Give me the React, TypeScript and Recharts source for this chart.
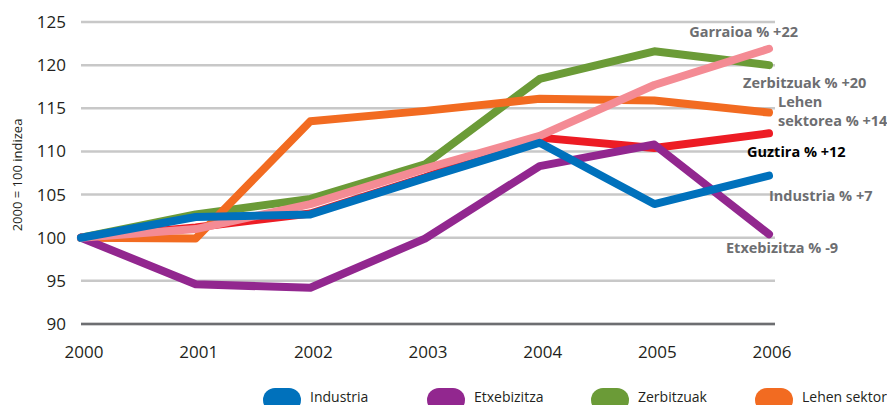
import { LineChart, Line, XAxis, YAxis, CartesianGrid } from 'recharts';

const years = [2000, 2001, 2002, 2003, 2004, 2005, 2006];
const yTicks = [90, 95, 100, 105, 110, 115, 120, 125];

const industria = [100, 102.4, 102.7, 106.9, 111, 103.9, 107.2];
const etxebizitza = [100, 94.6, 94.2, 99.9, 108.3, 110.8, 100.4];
const zerbitzuak = [100, 102.7, 104.5, 108.5, 118.4, 121.6, 120];
const lehenSektorea = [100, 99.9, 113.5, 114.7, 116.1, 115.9, 114.5];
const guztira = [100, 101.2, 102.8, 107, 111.6, 110.4, 112.1];
const garraioa = [100, 101, 103.9, 108, 111.8, 117.7, 121.9];

const data = years.map((year, i) => ({
  year,
  industria: industria[i],
  etxebizitza: etxebizitza[i],
  zerbitzuak: zerbitzuak[i],
  lehen: lehenSektorea[i],
  guztira: guztira[i],
  garraioa: garraioa[i],
}));

const FONT = '"Open Sans", sans-serif';

// drawing order: bottom first
const series = [
  { key: 'zerbitzuak', name: 'Zerbitzuak', color: '#6b9b37', end: ['Zerbitzuak % +20'], dx: -26, dy: 23, anchor: 'start', textColor: '#6d6e71' },
  { key: 'guztira', name: 'Guztira', color: '#ed1c24', end: ['Guztira % +12'], dx: -22, dy: 24, anchor: 'start', textColor: '#000' },
  { key: 'lehen', name: 'Lehen sektorea', color: '#f26b21', end: ['Lehen', 'sektorea % +14'], dx: 9, dy: -6, anchor: 'start', textColor: '#6d6e71' },
  { key: 'etxebizitza', name: 'Etxebizitza', color: '#92278f', end: ['Etxebizitza % -9'], dx: -43, dy: 19, anchor: 'start', textColor: '#6d6e71' },
  { key: 'garraioa', name: 'Garraioa', color: '#f48b94', end: ['Garraioa % +22'], dx: 29, dy: -12, anchor: 'end', textColor: '#6d6e71' },
  { key: 'industria', name: 'Industria', color: '#0071bc', end: ['Industria % +7'], dx: 0, dy: 25, anchor: 'start', textColor: '#6d6e71' },
];

const legendOrder = ['industria', 'etxebizitza', 'zerbitzuak', 'lehen', 'guztira', 'garraioa'];

function endLabel(s: (typeof series)[number]) {
  return (props: any) => {
    if (props.index !== years.length - 1) return null;
    return (
      <text
        key={s.key}
        x={props.x + s.dx}
        y={props.y + s.dy}
        textAnchor={s.anchor}
        fill={s.textColor}
        fontFamily={FONT}
        fontWeight={700}
        fontSize={14.5}
      >
        {s.end.map((t, i) => (
          <tspan key={t} x={props.x + s.dx} dy={i === 0 ? 0 : 19}>
            {t}
          </tspan>
        ))}
      </text>
    );
  };
}

export default function App() {
  return (
    <div style={{ position: 'absolute', left: 0, top: 0, width: 887, height: 405, overflow: 'hidden', background: '#fff' }}>
      <LineChart width={887} height={405} data={data} margin={{ top: 22, right: 112, left: 0, bottom: 50 }}>
        <CartesianGrid vertical={false} stroke="#c8c8c8" strokeWidth={2.5} />
        <XAxis
          dataKey="year"
          type="number"
          domain={[2000, 2006]}
          ticks={years}
          padding={{ left: 0, right: 6 }}
          height={31}
          tickLine={false}
          tickMargin={16}
          axisLine={{ stroke: '#6d6e71', strokeWidth: 2.5 }}
          tick={{ fill: '#231f20', fontSize: 17, fontFamily: FONT, dx: 3 }}
        />
        <YAxis
          domain={[90, 125]}
          ticks={yTicks}
          width={81}
          axisLine={false}
          tickLine={false}
          tickMargin={9}
          tick={{ fill: '#231f20', fontSize: 17, fontFamily: FONT }}
        />
        {series.map((s) => (
          <Line
            key={s.key}
            dataKey={s.key}
            stroke={s.color}
            strokeWidth={8}
            strokeLinecap="round"
            strokeLinejoin="round"
            dot={false}
            activeDot={false}
            isAnimationActive={false}
            label={endLabel(s)}
          />
        ))}
      </LineChart>
      <div
        style={{
          position: 'absolute',
          left: 17,
          top: 175,
          transform: 'translate(-50%, -50%) rotate(-90deg)',
          whiteSpace: 'nowrap',
          fontFamily: FONT,
          fontSize: 13,
          color: '#231f20',
        }}
      >
        2000 = 100 indizea
      </div>
      <div style={{ position: 'absolute', left: 263, top: 388, width: 700, display: 'flex', flexWrap: 'wrap' }}>
        {legendOrder.map((k) => {
          const s = series.find((x) => x.key === k)!;
          return (
            <div key={k} style={{ width: 164, height: 40, display: 'flex', alignItems: 'flex-start', whiteSpace: 'nowrap' }}>
              <div style={{ width: 38, height: 24, borderRadius: 12, background: s.color, flexShrink: 0 }} />
              <span style={{ marginLeft: 9, marginTop: 2, lineHeight: '14px', fontFamily: FONT, fontSize: 14, color: '#231f20' }}>{s.name}</span>
            </div>
          );
        })}
      </div>
    </div>
  );
}
